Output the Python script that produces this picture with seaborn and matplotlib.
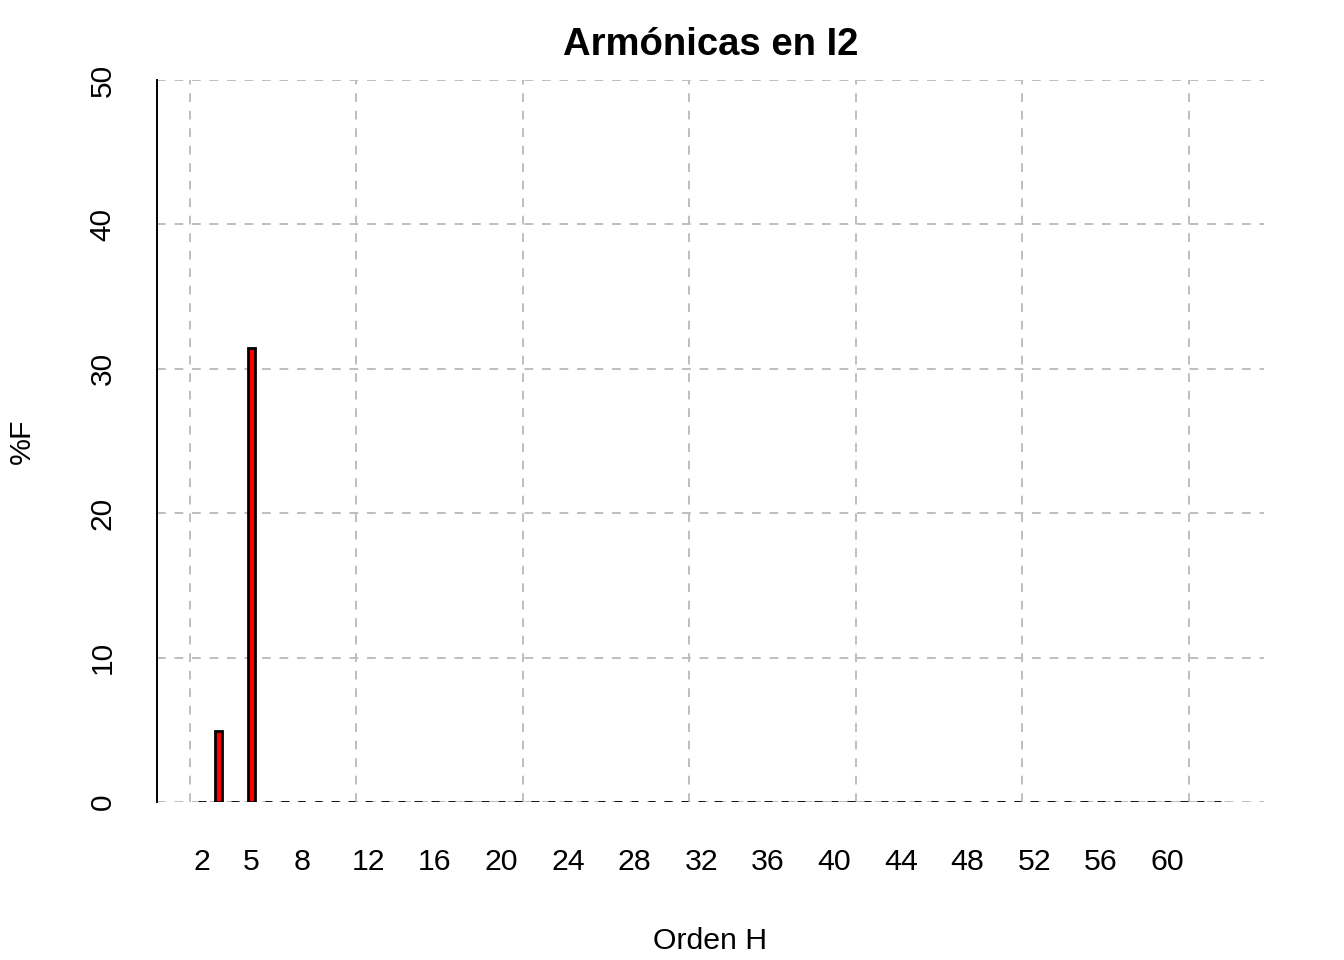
import matplotlib
matplotlib.use("Agg")
import matplotlib.pyplot as plt
import seaborn as sns
import pandas as pd
import numpy as np

# Data
harmonics = list(range(2, 64))
values = [0.0] * len(harmonics)
values[harmonics.index(3)] = 4.9
values[harmonics.index(5)] = 31.45
tick_positions = [2, 5, 8, 12, 16, 20, 24, 28, 32, 36, 40, 44, 48, 52, 56, 60]
tick_labels = [str(t) for t in tick_positions]
y_ticks = [0, 10, 20, 30, 40, 50]
vgrid = [1.29 + 10 * k for k in range(7)]

df = pd.DataFrame({"h": harmonics, "v": values})

sns.set_style("white")
plt.rcParams["font.family"] = ["Liberation Sans", "DejaVu Sans"]
plt.rcParams["text.color"] = "black"
plt.rcParams["axes.labelcolor"] = "black"

fig = plt.figure(figsize=(13.44, 9.6), dpi=100)
ax = fig.add_axes([157 / 1344, 1 - 802 / 960, (1264 - 157) / 1344, (802 - 80) / 960])

grid_kw = dict(color="#BEBEBE", lw=1.4, linestyle=(0, (4.5, 4.5)), zorder=0)
for g in vgrid:
    ax.axvline(g, **grid_kw)
for t in y_ticks:
    ax.axhline(t, **grid_kw)

sns.barplot(data=df, x="h", y="v", native_scale=True, width=0.45,
            color="red", edgecolor="black", linewidth=2.0, errorbar=None,
            saturation=1, ax=ax, zorder=3)

ax.set_xlim(-0.69, 65.8)
ax.set_ylim(0, 50)
for s in ["top", "right", "bottom"]:
    ax.spines[s].set_visible(False)
ax.spines["left"].set_linewidth(1.4)
ax.spines["left"].set_color("black")

ax.set_yticks(y_ticks)
ax.set_yticklabels([str(t) for t in y_ticks], rotation=90, va="center", fontsize=21.5)
ax.tick_params(axis="y", length=12, width=1.4, direction="out", pad=17, colors="black")

ax.set_xticks(tick_positions)
ax.set_xticklabels(tick_labels, fontsize=21.8)
ax.tick_params(axis="x", length=0, pad=33, colors="black")

ax.set_xlabel("Orden H", fontsize=21.8, labelpad=37, color="black")
ax.set_ylabel("%F", fontsize=21.8, labelpad=38, color="black")
ax.set_title("Armónicas en I2", fontsize=27.5, fontweight="bold", pad=18, color="black")

fig.savefig("out.png", dpi=100)
